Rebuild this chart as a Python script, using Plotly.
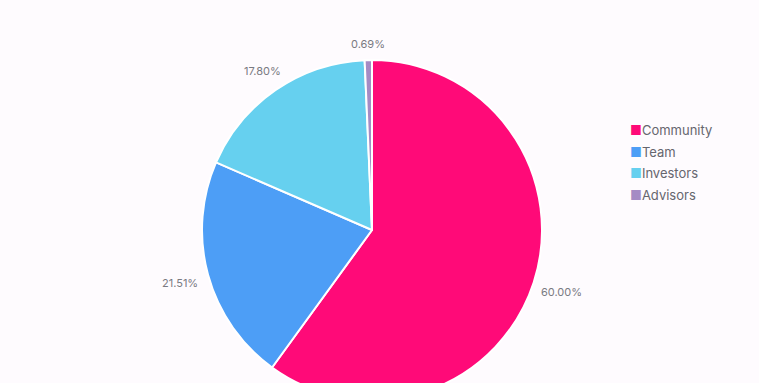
import math
import plotly.graph_objects as go

# Token allocation breakdown
labels = ["Community", "Team", "Investors", "Advisors"]
shares = [60.00, 21.51, 17.80, 0.69]
colors = ["#ff0a78", "#4d9ef6", "#66d0ef", "#a58bc4"]

W, H = 759, 460
cx, r = 372, 170          # pie centre x and radius in px
top, bottom = 60, 400     # vertical extent of the pie box in px
BG = "#fefbfe"
FONT = "Inter, sans-serif"

fig = go.Figure(
    go.Pie(
        labels=labels,
        values=shares,
        sort=False,
        direction="clockwise",
        rotation=0,
        marker=dict(colors=colors, line=dict(color="#ffffff", width=2)),
        textinfo="none",
        domain=dict(x=[(cx - r) / W, (cx + r) / W], y=[0, 1]),
        hoverinfo="label+percent",
        showlegend=False,
    )
)

# Percentage labels just outside each slice, at its mid-angle
cy = (top + bottom) / 2
total = sum(shares)
start = 0.0
annotations = []
for v in shares:
    mid = (start + v / 2) / total * 2 * math.pi
    start += v
    ux, uy = math.sin(mid), -math.cos(mid)
    text = f"{v:.2f}%"
    half_w, half_h = 3.35 * len(text), 6
    ext = math.hypot(half_w * ux, half_h * uy)
    d = r + 10 + ext
    px, py = cx + d * ux, cy + d * uy
    annotations.append(dict(
        x=px / W, y=(bottom - py) / (bottom - top),
        xref="paper", yref="paper", xanchor="center", yanchor="middle",
        text=text, showarrow=False,
        font=dict(family=FONT, size=11, color="#7a7a82"),
    ))

# Legend: coloured square followed by the category name
leg_x, leg_y0, leg_dy = 628, 130, 21.6
for i, (name, col) in enumerate(zip(labels, colors)):
    py = leg_y0 + i * leg_dy
    annotations.append(dict(
        x=leg_x / W, y=(bottom - py) / (bottom - top),
        xref="paper", yref="paper", xanchor="left", yanchor="middle",
        text=f"<span style='color:{col}'>■</span>{name}",
        showarrow=False,
        font=dict(family=FONT, size=13, color="#66666e"),
    ))

fig.update_layout(
    width=W,
    height=H,
    margin=dict(l=0, r=0, t=top, b=H - bottom),
    paper_bgcolor=BG,
    plot_bgcolor=BG,
    annotations=annotations,
)

fig.write_html("out.html")
